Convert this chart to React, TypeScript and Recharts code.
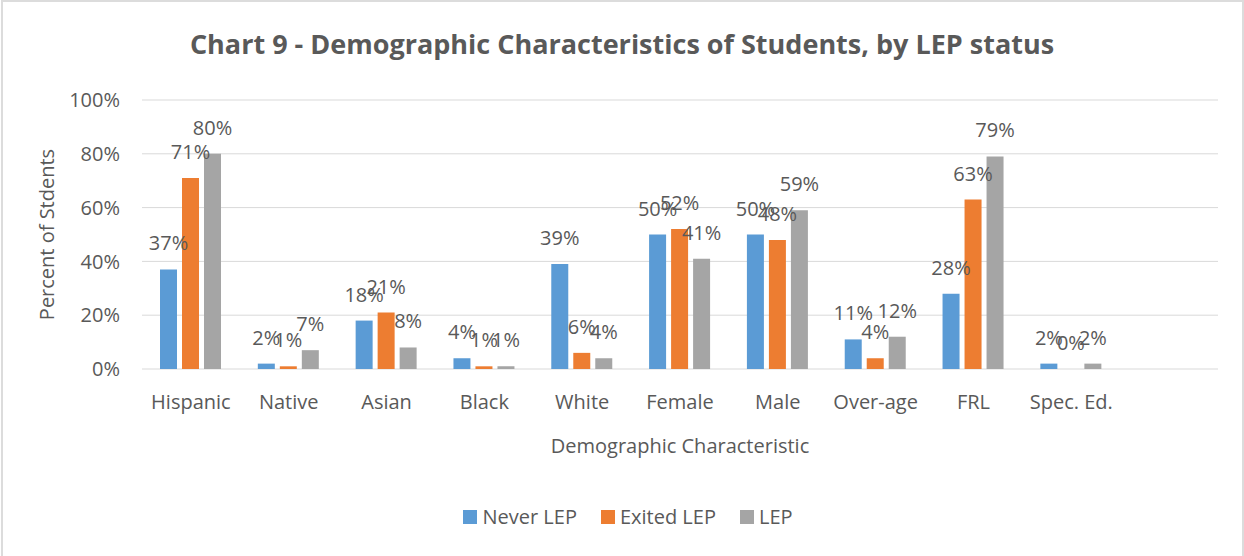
import { Bar, BarChart, CartesianGrid, Label, LabelList, Legend, XAxis, YAxis } from "recharts";

document.body.style.margin = "0";
document.body.style.overflow = "hidden";

const CATEGORIES = ["Hispanic", "Native", "Asian", "Black", "White", "Female", "Male", "Over-age", "FRL", "Spec. Ed."];
const NEVER_LEP = [37, 2, 18, 4, 39, 50, 50, 11, 28, 2];
const EXITED_LEP = [71, 1, 21, 1, 6, 52, 48, 4, 63, 0];
const LEP = [80, 7, 8, 1, 4, 41, 59, 12, 79, 2];
const Y_TICKS = [0, 20, 40, 60, 80, 100];

const SERIES = [
  { key: "never", name: "Never LEP", color: "#5B9BD5", values: NEVER_LEP },
  { key: "exited", name: "Exited LEP", color: "#ED7D31", values: EXITED_LEP },
  { key: "lep", name: "LEP", color: "#A5A5A5", values: LEP },
];

const TEXT = "#595959";
const FONT = "'Open Sans', sans-serif";
const GRID = "#D9D9D9";

// Excel left one empty slot at the right end of the category axis
const rows: Record<string, string | number | null>[] = [
  ...CATEGORIES.map((category, i) => {
    const row: Record<string, string | number | null> = { category };
    for (const s of SERIES) row[s.key] = s.values[i];
    return row;
  }),
  { category: "", never: null, exited: null, lep: null },
];

function pct(value: unknown): string {
  return value === null || value === undefined || value === "" ? "" : `${value}%`;
}

function LegendContent() {
  return (
    <div style={{ display: "flex", justifyContent: "center", gap: 24, fontFamily: FONT, fontSize: 20, color: TEXT }}>
      {SERIES.map((s) => (
        <div key={s.key} style={{ display: "flex", alignItems: "center" }}>
          <span style={{ display: "inline-block", width: 14, height: 14, background: s.color, marginRight: 5 }} />
          <span>{s.name}</span>
        </div>
      ))}
    </div>
  );
}

export default function App() {
  return (
    <div style={{ position: "relative", width: 1244, height: 556, background: "#fff", fontFamily: FONT }}>
      <div
        style={{
          position: "absolute",
          left: 1,
          top: 0,
          width: 1243,
          height: 600,
          boxSizing: "border-box",
          border: "2px solid #DCDCDC",
        }}
      />
      <div
        style={{
          position: "absolute",
          top: 30,
          left: 0,
          width: 1244,
          textAlign: "center",
          fontSize: 27,
          lineHeight: 1,
          fontWeight: 700,
          color: TEXT,
        }}
      >
        Chart 9 - Demographic Characteristics of Students, by LEP status
      </div>
      <BarChart
        width={1244}
        height={556}
        data={rows}
        margin={{ top: 100, right: 26, bottom: 97, left: 0 }}
        barGap={5}
        barSize={17}
        style={{ position: "absolute", left: 0, top: 0 }}
      >
        <CartesianGrid stroke={GRID} vertical={false} />
        <XAxis
          dataKey="category"
          axisLine={false}
          tickLine={false}
          tickSize={0}
          tickMargin={26}
          interval={0}
          height={90}
          tick={{ fill: TEXT, fontSize: 20, fontFamily: FONT }}
        >
          <Label
            value="Demographic Characteristic"
            position="insideBottom"
            offset={6}
            fill={TEXT}
            fontSize={20}
            fontFamily={FONT}
          />
        </XAxis>
        <YAxis
          width={142}
          domain={[0, 100]}
          ticks={Y_TICKS}
          tickFormatter={pct}
          axisLine={false}
          tickLine={false}
          tickSize={0}
          tickMargin={22}
          tick={{ fill: TEXT, fontSize: 20, fontFamily: FONT }}
        >
          <Label
            content={(props: any) => {
              const vb = props.viewBox || { x: 0, y: 0, width: 0, height: 0 };
              const cx = vb.x + 46;
              const cy = vb.y + vb.height / 2;
              return (
                <text
                  x={cx}
                  y={cy}
                  transform={`rotate(-90 ${cx} ${cy})`}
                  textAnchor="middle"
                  dominantBaseline="central"
                  fill={TEXT}
                  fontSize={20}
                  fontFamily={FONT}
                >
                  Percent of Stdents
                </text>
              );
            }}
          />
        </YAxis>
        <Legend
          verticalAlign="middle"
          align="center"
          content={<LegendContent />}
          wrapperStyle={{ left: 6, top: 503, width: 1244 }}
        />
        {SERIES.map((s) => (
          <Bar
            key={s.key}
            dataKey={s.key}
            name={s.name}
            fill={s.color}
            minPointSize={0.01}
            isAnimationActive={false}
          >
            <LabelList
              dataKey={s.key}
              position="top"
              offset={19}
              formatter={pct}
              fill={TEXT}
              fontSize={20}
              fontFamily={FONT}
            />
          </Bar>
        ))}
      </BarChart>
    </div>
  );
}
